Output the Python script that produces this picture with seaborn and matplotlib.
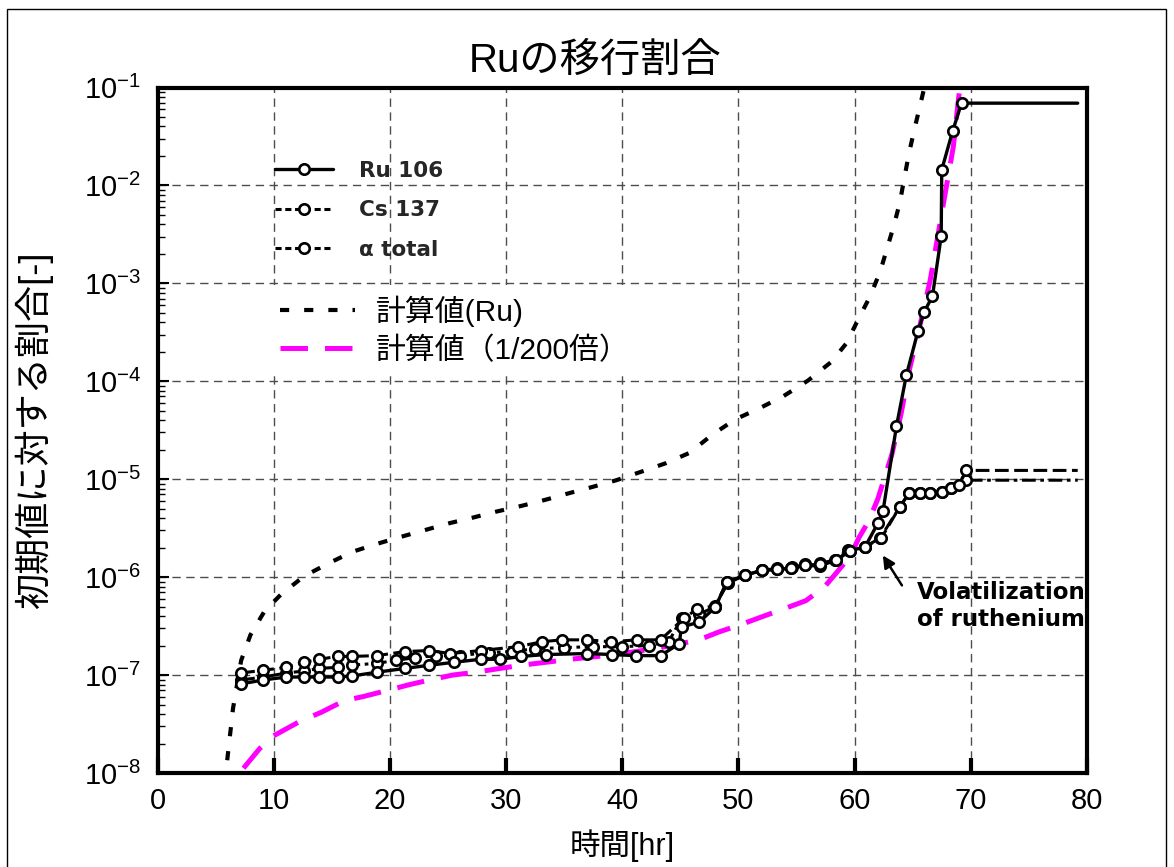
import matplotlib
matplotlib.use("Agg")
import matplotlib.pyplot as plt
import seaborn as sns
from matplotlib.lines import Line2D
from matplotlib.patches import Rectangle
from matplotlib.ticker import LogLocator, NullFormatter

# ---- measured release fractions (time [hr], fraction of initial inventory) ----
ru_time = [7.2, 9.1, 11.1, 12.6, 13.9, 15.5, 16.7, 18.9, 21.3, 23.4, 25.5, 27.8,
           29.5, 31.3, 33.4, 37.0, 39.1, 41.2, 43.3, 44.9, 45.1, 46.6, 48.0, 49.0,
           50.6, 52.0, 53.3, 54.5, 55.7, 57.0, 58.4, 59.6, 60.9, 62.0, 62.45, 63.6,
           64.45, 65.45, 66.0, 66.7, 67.45, 67.5, 68.45, 69.2, 79.2]
ru_frac = [8.13e-8, 8.91e-8, 9.55e-8, 9.55e-8, 9.55e-8, 9.55e-8, 9.77e-8, 1.07e-7,
           1.17e-7, 1.26e-7, 1.35e-7, 1.45e-7, 1.45e-7, 1.55e-7, 1.62e-7, 1.66e-7,
           1.62e-7, 1.58e-7, 1.58e-7, 2.09e-7, 3.09e-7, 3.47e-7, 4.90e-7, 8.91e-7,
           1.05e-6, 1.17e-6, 1.20e-6, 1.23e-6, 1.32e-6, 1.35e-6, 1.48e-6, 1.86e-6,
           2.04e-6, 3.55e-6, 4.79e-6, 3.47e-5, 1.15e-4, 3.24e-4, 5.13e-4, 7.41e-4,
           3.02e-3, 1.45e-2, 3.63e-2, 6.92e-2, 6.92e-2]

cs_time = [7.2, 9.1, 11.1, 12.6, 13.9, 15.5, 16.7, 18.9, 21.3, 23.4, 25.2, 27.8,
           31.0, 33.1, 34.8, 37.0, 39.0, 41.3, 43.3, 45.3, 46.4, 48.0, 49.1, 50.6,
           52.0, 53.3, 54.6, 55.7, 57.0, 58.3, 59.4, 60.9, 62.3, 63.9, 64.7, 65.6,
           66.5, 67.5, 68.3, 69.0, 69.6, 79.2]
cs_frac = [1.05e-7, 1.12e-7, 1.20e-7, 1.35e-7, 1.45e-7, 1.55e-7, 1.55e-7, 1.58e-7,
           1.74e-7, 1.78e-7, 1.66e-7, 1.78e-7, 1.95e-7, 2.19e-7, 2.29e-7, 2.29e-7,
           2.19e-7, 2.29e-7, 2.29e-7, 3.80e-7, 4.68e-7, 5.13e-7, 8.71e-7, 1.05e-6,
           1.17e-6, 1.23e-6, 1.26e-6, 1.32e-6, 1.29e-6, 1.48e-6, 1.91e-6, 2.04e-6,
           2.51e-6, 5.25e-6, 7.24e-6, 7.24e-6, 7.24e-6, 7.41e-6, 8.13e-6, 8.71e-6,
           1.23e-5, 1.23e-5]

alpha_time = [7.2, 9.1, 11.1, 12.6, 13.9, 15.5, 16.7, 18.9, 20.5, 22.2, 24.0, 26.0,
              28.5, 30.5, 32.5, 35.0, 37.5, 40.0, 42.3, 44.0, 45.1, 46.6, 48.0, 49.0,
              50.6, 52.0, 53.3, 54.5, 55.7, 57.0, 58.4, 59.6, 60.9, 62.2, 63.9, 64.7,
              65.6, 66.5, 67.5, 68.3, 69.6, 79.2]
alpha_frac = [8.91e-8, 9.55e-8, 1.05e-7, 1.10e-7, 1.17e-7, 1.20e-7, 1.26e-7, 1.32e-7,
              1.41e-7, 1.51e-7, 1.58e-7, 1.58e-7, 1.70e-7, 1.74e-7, 1.86e-7, 1.91e-7,
              1.95e-7, 1.95e-7, 2.00e-7, 2.19e-7, 3.80e-7, 4.17e-7, 5.01e-7, 8.91e-7,
              1.05e-6, 1.17e-6, 1.20e-6, 1.23e-6, 1.35e-6, 1.38e-6, 1.51e-6, 1.86e-6,
              2.04e-6, 2.51e-6, 5.25e-6, 7.24e-6, 7.24e-6, 7.24e-6, 7.41e-6, 8.13e-6,
              9.77e-6, 9.77e-6]

# ---- calculated curves ----
calc_time = [6.0, 6.5, 7.2, 8.0, 9.2, 10.6, 12.6, 14.7, 16.8, 18.9, 20.9, 23.0,
             25.1, 27.2, 29.2, 31.4, 33.4, 35.5, 37.4, 39.5, 41.7, 43.7, 45.8, 47.7,
             49.7, 51.9, 53.9, 56.0, 58.0, 59.3, 60.3, 61.3, 62.2, 62.8, 63.4, 63.9,
             64.3, 64.7, 65.2, 65.7, 66.0]
calc_frac = [1.35e-8, 4.57e-8, 1.41e-7, 2.57e-7, 4.47e-7, 6.61e-7, 1.02e-6, 1.38e-6,
             1.82e-6, 2.19e-6, 2.57e-6, 3.02e-6, 3.55e-6, 4.07e-6, 4.68e-6, 5.37e-6,
             6.17e-6, 7.24e-6, 8.32e-6, 9.77e-6, 1.20e-5, 1.45e-5, 1.86e-5, 2.82e-5,
             4.07e-5, 5.37e-5, 7.08e-5, 1.02e-4, 1.58e-4, 2.45e-4, 4.27e-4, 7.24e-4,
             1.32e-3, 2.29e-3, 3.98e-3, 6.76e-3, 1.23e-2, 2.19e-2, 3.98e-2, 7.08e-2,
             1.0e-1]

scaled_time = [7.4, 8.8, 10.0, 12.3, 14.1, 16.1, 17.7, 20.0, 21.6, 23.4, 25.4, 27.4,
               29.5, 31.3, 33.4, 35.5, 37.9, 41.2, 43.3, 45.4, 46.6, 48.3, 50.3, 51.9,
               54.0, 55.8, 57.4, 58.6, 59.6, 60.4, 61.2, 62.0, 63.2, 64.0, 64.7, 65.6,
               66.5, 67.2, 67.9, 68.5, 68.9, 69.0]
scaled_frac = [1.12e-8, 1.78e-8, 2.40e-8, 3.39e-8, 4.17e-8, 5.50e-8, 6.03e-8, 7.08e-8,
               7.94e-8, 8.91e-8, 1.00e-7, 1.07e-7, 1.17e-7, 1.26e-7, 1.35e-7, 1.45e-7,
               1.55e-7, 1.74e-7, 1.91e-7, 2.14e-7, 2.29e-7, 2.75e-7, 3.31e-7, 3.89e-7,
               4.79e-7, 5.75e-7, 7.94e-7, 1.17e-6, 1.62e-6, 2.57e-6, 3.72e-6, 6.31e-6,
               1.78e-5, 4.68e-5, 1.29e-4, 3.63e-4, 1.07e-3, 3.24e-3, 9.77e-3, 2.51e-2,
               6.92e-2, 8.71e-2]

x_ticks = [0, 10, 20, 30, 40, 50, 60, 70, 80]
measured_labels = ["Ru 106", "Cs 137", "\u03b1 total"]
calc_labels = ["計算値(Ru)", "計算値（1/200倍）"]
title_text = "Ruの移行割合"
x_label = "時間[hr]"
y_label = "初期値に対する割合[-]"

# ---- styling ----
sns.set_theme(style="white")
plt.rcParams["font.family"] = ["Liberation Sans", "Noto Sans CJK JP", "DejaVu Sans"]
plt.rcParams["mathtext.fontset"] = "custom"
plt.rcParams["mathtext.rm"] = "Liberation Sans"
plt.rcParams["mathtext.it"] = "Liberation Sans:italic"
plt.rcParams["mathtext.bf"] = "Liberation Sans:bold"
plt.rcParams["axes.unicode_minus"] = True

W, H = 1174, 867
fig = plt.figure(figsize=(W / 100, H / 100), dpi=100)
fig.patch.set_facecolor("white")
ax = fig.add_axes([157.5 / W, 1 - 773 / H, 929.5 / W, 685.5 / H])
ax.set_facecolor("white")

MAG = "#ff00ff"
marker_kw = dict(marker="o", markersize=7.5, markerfacecolor="white",
                 markeredgecolor="black", markeredgewidth=1.9)

# calculated curves
sns.lineplot(x=calc_time, y=calc_frac, ax=ax, estimator=None, sort=False, legend=False,
             color="black", linewidth=3.0, linestyle=(0, (2.2, 3.6)),
             dash_capstyle="butt", zorder=3)
sns.lineplot(x=scaled_time, y=scaled_frac, ax=ax, estimator=None, sort=False, legend=False,
             color=MAG, linewidth=3.6, linestyle=(0, (5.5, 3.4)),
             dash_capstyle="butt", zorder=4)

# measured series (no marker on the final level segment)
sns.lineplot(x=alpha_time, y=alpha_frac, ax=ax, estimator=None, sort=False, legend=False,
             color="black", linewidth=2.2, linestyle=(0, (4.5, 1.5, 1.2, 1.5)),
             markevery=list(range(len(alpha_time) - 1)), zorder=5, **marker_kw)
sns.lineplot(x=cs_time, y=cs_frac, ax=ax, estimator=None, sort=False, legend=False,
             color="black", linewidth=2.2, linestyle=(0, (4.5, 1.8)),
             markevery=list(range(len(cs_time) - 1)), zorder=5, **marker_kw)
sns.lineplot(x=ru_time, y=ru_frac, ax=ax, estimator=None, sort=False, legend=False,
             color="black", linewidth=2.4, linestyle="-",
             markevery=list(range(len(ru_time) - 1)), zorder=6, **marker_kw)

# ---- axes ----
ax.set_yscale("log")
ax.set_xlim(0, 80)
ax.set_ylim(1e-8, 1e-1)
ax.set_xticks(x_ticks)
ax.yaxis.set_major_locator(LogLocator(base=10, numticks=10))
ax.yaxis.set_minor_locator(LogLocator(base=10, subs=range(2, 10), numticks=20))
ax.yaxis.set_minor_formatter(NullFormatter())

ax.grid(True, which="major", color="0.3", linestyle=(0, (6, 4)), linewidth=1.0)
ax.set_axisbelow(True)
for s in ax.spines.values():
    s.set_linewidth(3)
    s.set_color("black")

ax.tick_params(axis="x", which="major", direction="in", length=11, width=3,
               labelsize=21, pad=10, colors="black", bottom=True, top=False)
ax.tick_params(axis="y", which="major", direction="in", length=8, width=1.5,
               labelsize=21, pad=12, colors="black", left=True, right=False)
ax.tick_params(axis="y", which="minor", direction="in", length=5, width=1.0,
               left=True, right=False, colors="black")

ax.set_xlabel(x_label, fontsize=22, color="black")
ax.xaxis.set_label_coords(0.5, -0.082)
ax.set_ylabel(y_label, fontsize=26, color="black")
ax.yaxis.set_label_coords(-0.112, 0.5)

fig.text(0.507, 1 - 61 / H, title_text, ha="center", va="center", fontsize=29,
         color="black")

# ---- legends ----
h_ru = Line2D([], [], color="black", lw=2.4, ls="-", **marker_kw)
h_cs = Line2D([], [], color="black", lw=2.2, ls=(0, (2.0, 1.2)), **marker_kw)
h_al = Line2D([], [], color="black", lw=2.2, ls=(0, (2.0, 1.2)), **marker_kw)
leg1 = ax.legend([h_ru, h_cs, h_al], measured_labels, loc="upper left",
                 bbox_to_anchor=(275 / W, 1 - 161 / H), bbox_transform=fig.transFigure,
                 frameon=False, numpoints=1,
                 prop=dict(family="DejaVu Sans", weight="bold", size=15.5),
                 handlelength=2.7, handletextpad=1.2, labelspacing=0.9,
                 borderpad=0, borderaxespad=0)
ax.add_artist(leg1)

h_calc = Line2D([], [], color="black", lw=3.0, ls=(0, (2.2, 3.6)), dash_capstyle="butt")
h_mag = Line2D([], [], color=MAG, lw=3.6, ls=(0, (5.5, 3.4)), dash_capstyle="butt")
leg2 = ax.legend([h_calc, h_mag], calc_labels, loc="upper left",
                 bbox_to_anchor=(270 / W, 1 - 285 / H), bbox_transform=fig.transFigure,
                 frameon=True, facecolor="white", edgecolor="none", framealpha=1,
                 fancybox=False, prop=dict(size=21.5),
                 handlelength=2.5, handletextpad=0.7, labelspacing=0.32,
                 borderpad=0.35, borderaxespad=0)
for t in leg2.get_texts():
    t.set_color("black")

# ---- annotation ----
ax.annotate("", xy=(62.3, 1.76e-6), xytext=(64.2, 7.8e-7),
            arrowprops=dict(arrowstyle="-|>", color="black", lw=1.8, mutation_scale=18),
            zorder=7)
ax.text(65.4, 5.1e-7, "Volatilization\nof ruthenium", ha="left", va="center",
        fontsize=16.5, fontweight="bold", family="DejaVu Sans",
        linespacing=1.25, color="black", zorder=7)

# outer frame
fig.patches.append(Rectangle((7 / W, -0.01), (1166 - 7) / W, 1 - 9 / H + 0.01,
                             transform=fig.transFigure, fill=False,
                             edgecolor="black", linewidth=1.0))

fig.savefig("out.png", dpi=100, facecolor="white")
